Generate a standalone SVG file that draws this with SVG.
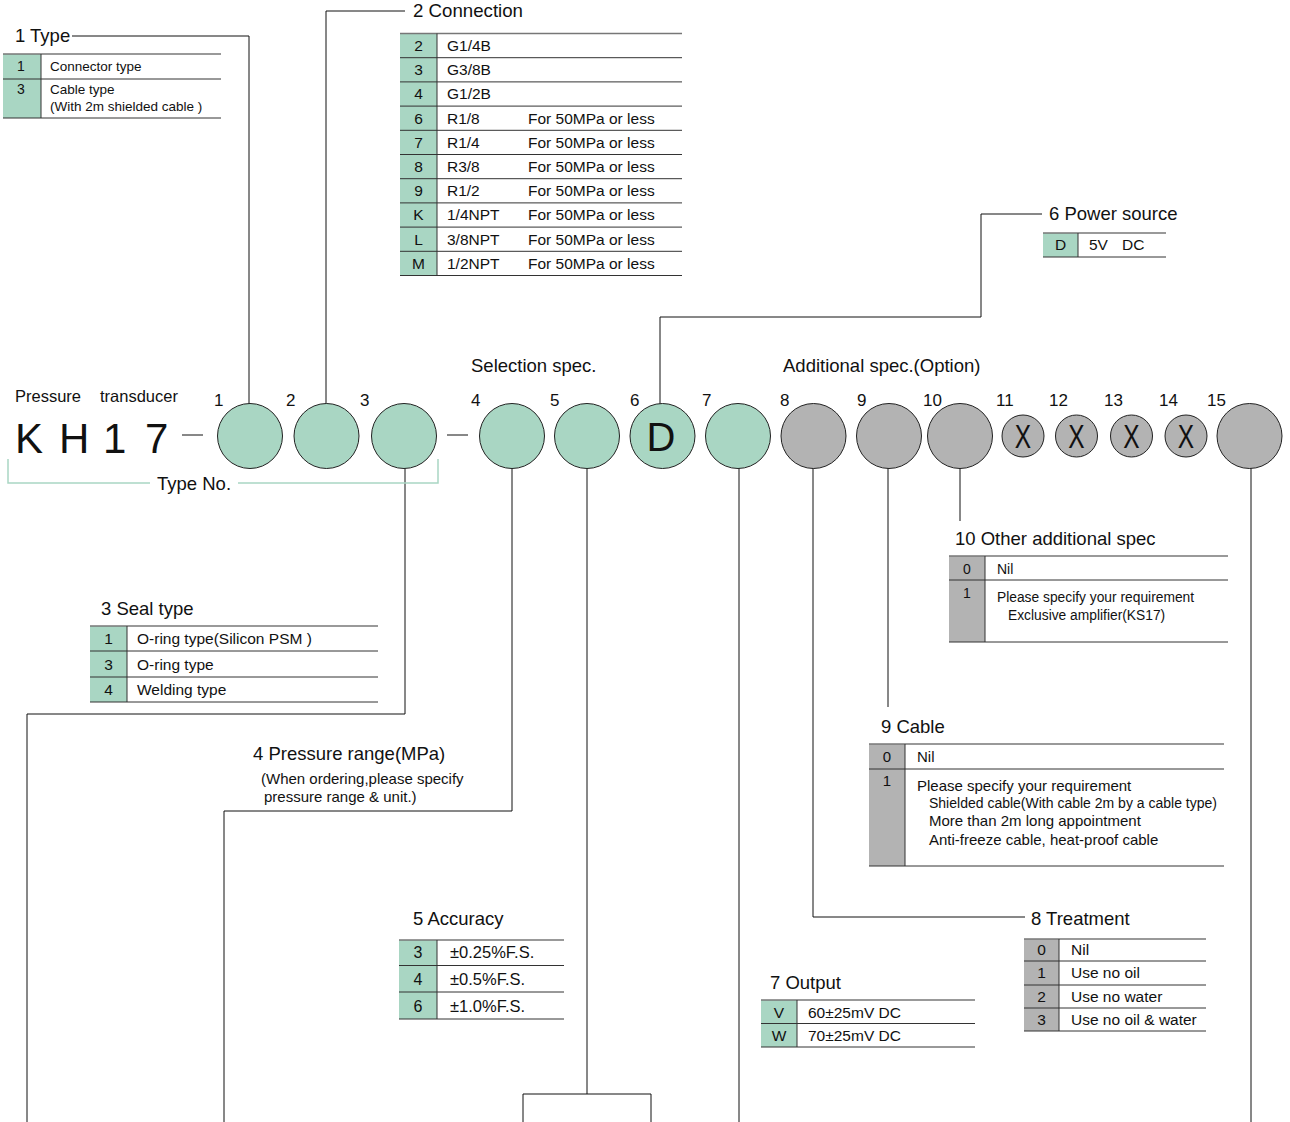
<svg xmlns="http://www.w3.org/2000/svg" width="1290" height="1122" viewBox="0 0 1290 1122">
<style>
text{font-family:"Liberation Sans",Arial,Helvetica,sans-serif;fill:#111}
.lbl{font-size:18.5px}
.c{font-size:15.5px}
.k{font-size:15.5px;text-anchor:middle}
.s{font-size:13.5px}
.num{font-size:17px}
.ln{stroke:#111;stroke-width:1;fill:none}
.tt{stroke:#777;stroke-width:1.5;fill:none}
.tr{stroke:#333;stroke-width:1;fill:none}
.g{fill:#a9d6c3}
.gr{fill:#b3b3b3}
.cg{fill:#a9d6c3;stroke:#222;stroke-width:1}
.cy{fill:#b3b3b3;stroke:#222;stroke-width:1}
</style>
<rect width="1290" height="1122" fill="#fff"/>

<g id="connectors">
<polyline class="ln" points="72,36 249,36 249,404"/>
<polyline class="ln" points="326,404 326,11 405,11"/>
<polyline class="ln" points="660,404 660,317 981,317 981,214 1042,214"/>
<polyline class="ln" points="405,468 405,714 27,714 27,1122"/>
<polyline class="ln" points="512,468 512,811 224,811 224,1122"/>
<polyline class="ln" points="587,468 587,1094"/>
<polyline class="ln" points="523,1122 523,1094 651,1094 651,1122"/>
<polyline class="ln" points="739,468 739,1122"/>
<polyline class="ln" points="813,468 813,917 1025,917"/>
<polyline class="ln" points="888,468 888,707"/>
<polyline class="ln" points="960,468 960,521"/>
<polyline class="ln" points="1251,468 1251,1122"/>
<line class="ln" x1="182" y1="435" x2="203" y2="435" stroke="#666"/>
<line class="ln" x1="447" y1="435" x2="468" y2="435" stroke="#666"/>
</g>

<g id="model">
<text x="15" y="402" style="font-size:16.5px">Pressure</text>
<text x="100" y="402" style="font-size:16.5px">transducer</text>
<text x="15" y="453" style="font-size:42px">K</text>
<text x="59" y="453" style="font-size:42px">H</text>
<text x="103" y="453" style="font-size:42px">1</text>
<text x="145" y="453" style="font-size:42px">7</text>
<polyline points="8,459 8,483 150,483" fill="none" stroke="#a9d6c3" stroke-width="1.5"/>
<polyline points="238,483 438,483 438,459" fill="none" stroke="#a9d6c3" stroke-width="1.5"/>
<text x="157" y="490" class="lbl">Type No.</text>
<text x="471" y="372" class="lbl">Selection spec.</text>
<text x="783" y="372" class="lbl">Additional spec.(Option)</text>
</g>

<g id="circles">
<g id="c1"><text x="214" y="406" class="num">1</text><circle class="cg" cx="250" cy="436" r="32.5"/></g>
<g id="c2"><text x="286" y="406" class="num">2</text><circle class="cg" cx="326.5" cy="436" r="32.5"/></g>
<g id="c3"><text x="360" y="406" class="num">3</text><circle class="cg" cx="404" cy="436" r="32.5"/></g>
<g id="c4"><text x="471" y="406" class="num">4</text><circle class="cg" cx="512" cy="436" r="32.5"/></g>
<g id="c5"><text x="550" y="406" class="num">5</text><circle class="cg" cx="587" cy="436" r="32.5"/></g>
<g id="c6"><text x="630" y="406" class="num">6</text><circle class="cg" cx="662.5" cy="436" r="32.5"/><text x="661" y="451" style="font-size:40px;text-anchor:middle">D</text></g>
<g id="c7"><text x="702" y="406" class="num">7</text><circle class="cg" cx="738" cy="436" r="32.5"/></g>
<g id="c8"><text x="780" y="406" class="num">8</text><circle class="cy" cx="813.5" cy="436" r="32.5"/></g>
<g id="c9"><text x="857" y="406" class="num">9</text><circle class="cy" cx="889" cy="436" r="32.5"/></g>
<g id="c10"><text x="923" y="406" class="num">10</text><circle class="cy" cx="960" cy="436" r="32.5"/></g>
<g id="c11"><text x="996" y="406" class="num">11</text><circle class="cy" cx="1023" cy="436" r="21"/><text transform="translate(1023,448) scale(0.72,1)" style="font-size:34px;text-anchor:middle">X</text></g>
<g id="c12"><text x="1049" y="406" class="num">12</text><circle class="cy" cx="1076.5" cy="436" r="21"/><text transform="translate(1076.5,448) scale(0.72,1)" style="font-size:34px;text-anchor:middle">X</text></g>
<g id="c13"><text x="1104" y="406" class="num">13</text><circle class="cy" cx="1131.5" cy="436" r="21"/><text transform="translate(1131.5,448) scale(0.72,1)" style="font-size:34px;text-anchor:middle">X</text></g>
<g id="c14"><text x="1159" y="406" class="num">14</text><circle class="cy" cx="1186" cy="436" r="21"/><text transform="translate(1186,448) scale(0.72,1)" style="font-size:34px;text-anchor:middle">X</text></g>
<g id="c15"><text x="1207" y="406" class="num">15</text><circle class="cy" cx="1249.5" cy="436" r="32.5"/></g>
</g>

<g id="t-type">
<text x="15" y="42" class="lbl">1 Type</text>
<rect class="g" x="3" y="54" width="38" height="64"/>
<line class="tt" x1="3" y1="54" x2="221" y2="54"/>
<line class="tr" x1="3" y1="79" x2="221" y2="79"/>
<line class="tr" x1="3" y1="118" x2="221" y2="118"/>
<line class="tr" x1="41" y1="54" x2="41" y2="118"/>
<text x="21" y="71" class="k" style="font-size:14px">1</text>
<text x="50" y="71" class="s">Connector type</text>
<text x="21" y="94" class="k" style="font-size:14px">3</text>
<text x="50" y="94" class="s">Cable type</text>
<text x="50" y="111" class="s">(With 2m shielded cable )</text>
</g>

<g id="t-connection">
<text x="413" y="17" class="lbl" textLength="110" lengthAdjust="spacingAndGlyphs">2 Connection</text>
<rect class="g" x="400" y="33.5" width="37" height="242"/>
<line class="tt" x1="400" y1="33.5" x2="682" y2="33.5"/>
<line class="tr" x1="400" y1="57.7" x2="682" y2="57.7"/>
<line class="tr" x1="400" y1="81.9" x2="682" y2="81.9"/>
<line class="tr" x1="400" y1="106.1" x2="682" y2="106.1"/>
<line class="tr" x1="400" y1="130.3" x2="682" y2="130.3"/>
<line class="tr" x1="400" y1="154.5" x2="682" y2="154.5"/>
<line class="tr" x1="400" y1="178.7" x2="682" y2="178.7"/>
<line class="tr" x1="400" y1="202.9" x2="682" y2="202.9"/>
<line class="tr" x1="400" y1="227.1" x2="682" y2="227.1"/>
<line class="tr" x1="400" y1="251.3" x2="682" y2="251.3"/>
<line class="tr" x1="400" y1="275.5" x2="682" y2="275.5"/>
<line class="tr" x1="437" y1="33.5" x2="437" y2="275.5"/>
<text x="418.5" y="51" class="k">2</text><text x="447" y="51" class="c">G1/4B</text>
<text x="418.5" y="75.2" class="k">3</text><text x="447" y="75.2" class="c">G3/8B</text>
<text x="418.5" y="99.4" class="k">4</text><text x="447" y="99.4" class="c">G1/2B</text>
<text x="418.5" y="123.6" class="k">6</text><text x="447" y="123.6" class="c">R1/8</text><text x="528" y="123.6" class="c">For 50MPa or less</text>
<text x="418.5" y="147.8" class="k">7</text><text x="447" y="147.8" class="c">R1/4</text><text x="528" y="147.8" class="c">For 50MPa or less</text>
<text x="418.5" y="172" class="k">8</text><text x="447" y="172" class="c">R3/8</text><text x="528" y="172" class="c">For 50MPa or less</text>
<text x="418.5" y="196.2" class="k">9</text><text x="447" y="196.2" class="c">R1/2</text><text x="528" y="196.2" class="c">For 50MPa or less</text>
<text x="418.5" y="220.4" class="k">K</text><text x="447" y="220.4" class="c">1/4NPT</text><text x="528" y="220.4" class="c">For 50MPa or less</text>
<text x="418.5" y="244.6" class="k">L</text><text x="447" y="244.6" class="c">3/8NPT</text><text x="528" y="244.6" class="c">For 50MPa or less</text>
<text x="418.5" y="268.8" class="k">M</text><text x="447" y="268.8" class="c">1/2NPT</text><text x="528" y="268.8" class="c">For 50MPa or less</text>
</g>

<g id="t-power">
<text x="1049" y="220" class="lbl">6 Power source</text>
<rect class="g" x="1043" y="233" width="35" height="24"/>
<line class="tt" x1="1043" y1="233" x2="1166" y2="233"/>
<line class="tr" x1="1043" y1="257" x2="1166" y2="257"/>
<line class="tr" x1="1078" y1="233" x2="1078" y2="257"/>
<text x="1060.5" y="250" class="k">D</text>
<text x="1089" y="250" class="c">5V<tspan x="1122">DC</tspan></text>
</g>

<g id="t-seal">
<text x="101" y="615" class="lbl">3 Seal type</text>
<rect class="g" x="90" y="626" width="37" height="76"/>
<line class="tt" x1="90" y1="626" x2="378" y2="626"/>
<line class="tr" x1="90" y1="651" x2="378" y2="651"/>
<line class="tr" x1="90" y1="677" x2="378" y2="677"/>
<line class="tr" x1="90" y1="702" x2="378" y2="702"/>
<line class="tr" x1="127" y1="626" x2="127" y2="702"/>
<text x="108.5" y="644" class="k">1</text><text x="137" y="644" class="c">O-ring type(Silicon PSM )</text>
<text x="108.5" y="670" class="k">3</text><text x="137" y="670" class="c">O-ring type</text>
<text x="108.5" y="695" class="k">4</text><text x="137" y="695" class="c">Welding type</text>
</g>

<g id="t-pressure">
<text x="253" y="760" class="lbl">4 Pressure range(MPa)</text>
<text x="261" y="784" class="c" style="font-size:15px">(When ordering,please specify</text>
<text x="264" y="802" class="c" style="font-size:15px">pressure range &amp; unit.)</text>
</g>

<g id="t-accuracy">
<text x="413" y="925" class="lbl">5 Accuracy</text>
<rect class="g" x="399" y="940" width="38" height="79"/>
<line class="tt" x1="399" y1="940" x2="564" y2="940"/>
<line class="tr" x1="399" y1="965.5" x2="564" y2="965.5"/>
<line class="tr" x1="399" y1="992" x2="564" y2="992"/>
<line class="tr" x1="399" y1="1019" x2="564" y2="1019"/>
<line class="tr" x1="437" y1="940" x2="437" y2="1019"/>
<text x="418" y="958" class="k" style="font-size:16px">3</text><text x="450" y="958" class="c" style="font-size:16.5px">±0.25%F.S.</text>
<text x="418" y="985" class="k" style="font-size:16px">4</text><text x="450" y="985" class="c" style="font-size:16.5px">±0.5%F.S.</text>
<text x="418" y="1012" class="k" style="font-size:16px">6</text><text x="450" y="1012" class="c" style="font-size:16.5px">±1.0%F.S.</text>
</g>

<g id="t-output">
<text x="770" y="989" class="lbl">7 Output</text>
<rect class="g" x="761" y="1000" width="36" height="47"/>
<line class="tt" x1="761" y1="1000" x2="975" y2="1000"/>
<line class="tr" x1="761" y1="1023.5" x2="975" y2="1023.5"/>
<line class="tr" x1="761" y1="1047" x2="975" y2="1047"/>
<line class="tr" x1="797" y1="1000" x2="797" y2="1047"/>
<text x="779" y="1018" class="k">V</text><text x="808" y="1018" class="c">60±25mV DC</text>
<text x="779" y="1041" class="k">W</text><text x="808" y="1041" class="c">70±25mV DC</text>
</g>

<g id="t-treatment">
<text x="1031" y="925" class="lbl">8 Treatment</text>
<rect class="gr" x="1024" y="939" width="35" height="92"/>
<line class="tt" x1="1024" y1="939" x2="1206" y2="939"/>
<line class="tr" x1="1024" y1="961" x2="1206" y2="961"/>
<line class="tr" x1="1024" y1="985" x2="1206" y2="985"/>
<line class="tr" x1="1024" y1="1008" x2="1206" y2="1008"/>
<line class="tr" x1="1024" y1="1031" x2="1206" y2="1031"/>
<line class="tr" x1="1059" y1="939" x2="1059" y2="1031"/>
<text x="1041.5" y="955" class="k">0</text><text x="1071" y="955" class="c">Nil</text>
<text x="1041.5" y="978" class="k">1</text><text x="1071" y="978" class="c">Use no oil</text>
<text x="1041.5" y="1002" class="k">2</text><text x="1071" y="1002" class="c">Use no water</text>
<text x="1041.5" y="1025" class="k">3</text><text x="1071" y="1025" class="c">Use no oil &amp; water</text>
</g>

<g id="t-cable">
<text x="881" y="733" class="lbl">9 Cable</text>
<rect class="gr" x="869" y="744" width="36" height="122"/>
<line class="tt" x1="869" y1="744" x2="1224" y2="744"/>
<line class="tr" x1="869" y1="769" x2="1224" y2="769"/>
<line class="tr" x1="869" y1="866" x2="1224" y2="866"/>
<line class="tr" x1="905" y1="744" x2="905" y2="866"/>
<text x="887" y="762" class="k" style="font-size:15px">0</text><text x="917" y="762" class="c" style="font-size:15px">Nil</text>
<text x="887" y="786" class="k" style="font-size:15px">1</text>
<text x="917" y="791" class="c" style="font-size:15px">Please specify your requirement</text>
<text x="929" y="808" class="c" style="font-size:14px">Shielded cable(With cable 2m by a cable type)</text>
<text x="929" y="826" class="c" style="font-size:15px">More than 2m long appointment</text>
<text x="929" y="845" class="c" style="font-size:15px">Anti-freeze cable, heat-proof cable</text>
</g>

<g id="t-other">
<text x="955" y="545" class="lbl">10 Other additional spec</text>
<rect class="gr" x="949" y="556" width="36" height="86"/>
<line class="tt" x1="949" y1="556" x2="1228" y2="556"/>
<line class="tr" x1="949" y1="580" x2="1228" y2="580"/>
<line class="tr" x1="949" y1="642" x2="1228" y2="642"/>
<line class="tr" x1="985" y1="556" x2="985" y2="642"/>
<text x="967" y="574" class="k" style="font-size:14px">0</text><text x="997" y="574" class="c" style="font-size:14px">Nil</text>
<text x="967" y="598" class="k" style="font-size:14px">1</text>
<text x="997" y="602" class="c" style="font-size:13.8px">Please specify your requirement</text>
<text x="1008" y="620" class="c" style="font-size:13.8px">Exclusive amplifier(KS17)</text>
</g>
</svg>
